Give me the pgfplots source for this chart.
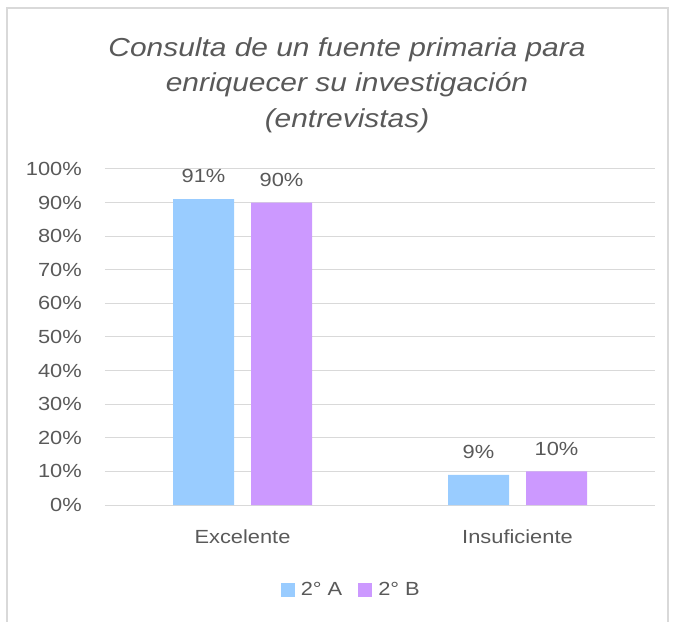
\documentclass[border=0pt]{standalone}
\usepackage{pgfplots}
\pgfplotsset{compat=1.18}
\usepackage{fontspec}
\setmainfont{Liberation Sans}[FakeStretch=1.15]
\definecolor{txt}{HTML}{595959}
\definecolor{gridc}{HTML}{D9D9D9}
\definecolor{barA}{HTML}{99CCFF}
\definecolor{barB}{HTML}{CC99FF}
\begin{document}
\begin{tikzpicture}[x=1pt,y=1pt]
\useasboundingbox (0,0) rectangle (673,622);
\draw[gridc, line width=1.5pt] (7,-20) rectangle (668,614);
\node[text=txt, align=center, font=\fontsize{26}{35.5}\selectfont\itshape] at (347,537) {Consulta de un fuente primaria para\\enriquecer su investigación\\(entrevistas)};
\begin{axis}[
  at={(105pt,117pt)}, anchor=south west,
  scale only axis, width=550pt, height=336pt,
  xmin=-0.5, xmax=1.5, ymin=0, ymax=100,
  ybar=17pt, bar width=61pt,
  axis line style={draw=none},
  major tick length=0pt,
  ytick={0,10,...,100},
  ymajorgrids, grid style={gridc, line width=1pt},
  xtick={0,1}, xticklabels={Excelente,Insuficiente},
  /pgf/number format/assume math mode=true,
  yticklabel={\pgfmathprintnumber{\tick}\%},
  tick label style={text=txt, font=\fontsize{19}{22}\selectfont},
  yticklabel style={inner sep=0pt, anchor=east, xshift=-23pt},
  xticklabel style={inner sep=0pt, yshift=-25pt},
  nodes near coords={\pgfmathprintnumber{\pgfplotspointmeta}\%},
  nodes near coords style={text=txt, font=\fontsize{19}{22}\selectfont, inner sep=0pt, anchor=south, yshift=16pt},
  legend style={at={(0.446,-0.253)}, anchor=center, draw=none, fill=none,
    legend columns=2, font=\fontsize{19}{22}\selectfont, text=txt,
    nodes={inner sep=0pt},
    /tikz/every odd column/.append style={column sep=6pt},
    /tikz/every even column/.append style={column sep=16pt}},
  legend image code/.code={\fill[#1] (0pt,-7pt) rectangle (14pt,7pt);},
]
\addplot[fill=barA, draw=none] coordinates {(0,91) (1,9)};
\addplot[fill=barB, draw=none] coordinates {(0,90) (1,10)};
\legend{2° A, 2° B}
\end{axis}
\end{tikzpicture}
\end{document}
